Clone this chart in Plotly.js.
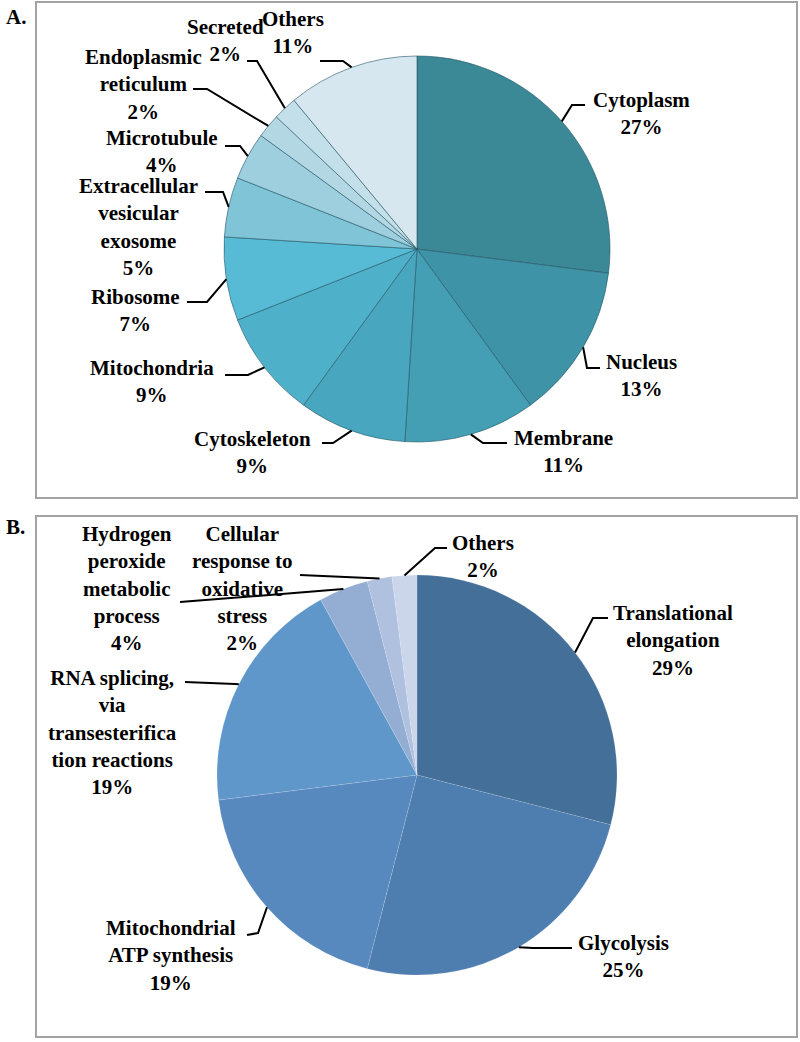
<!DOCTYPE html>
<html>
<head>
<meta charset="utf-8">
<script src="https://cdn.plot.ly/plotly-3.0.1.min.js"></script>
<style>
html,body{margin:0;padding:0;background:#fff;}
#chart{width:800px;height:1042px;}
#chart text{font-family:"Liberation Serif", "Times New Roman", serif !important;}
</style>
</head>
<body>
<div id="chart"></div>
<script>
// ---- Data ----
const locLabels = ["Cytoplasm", "Nucleus", "Membrane", "Cytoskeleton", "Mitochondria", "Ribosome",
  "Extracellular<br>vesicular<br>exosome", "Microtubule", "Endoplasmic<br>reticulum", "Secreted", "Others"];
const locValues = [27, 13, 11, 9, 9, 7, 5, 4, 2, 2, 11];
const locColors = ["#3b8896", "#3f93a6", "#449fb4", "#49a6bf", "#4fb0c9", "#57bbd5",
  "#80c4d7", "#9dcfde", "#b3d8e4", "#c3dfe9", "#d6e7ef"];

const procLabels = ["Translational<br>elongation", "Glycolysis", "Mitochondrial<br>ATP synthesis",
  "RNA splicing,<br>via<br>transesterifica<br>tion reactions",
  "Hydrogen<br>peroxide<br>metabolic<br>process", "Cellular<br>response to<br>oxidative<br>stress", "Others"];
const procValues = [29, 25, 19, 19, 4, 2, 2];
const procColors = ["#446f98", "#4e7daf", "#5789be", "#6097cb", "#94aed3", "#b0c1df", "#cbd6ea"];

// ---- Layout helpers (pixel -> paper) ----
const W = 800, H = 1042;
const px = x => x / W;
const py = y => 1 - y / H;

// pie geometry (layout)
const pieA = {cx: 417, cy: 249, r: 193};
const pieB = {cx: 417, cy: 775, r: 200};

// label placement (layout): text centre, elbow, end of leader
const placeA = [
  {t: [641, 113], e: [572, 105], n: [585, 105]},
  {t: [641, 375], e: [587, 368], n: [600, 368]},
  {t: [563, 451], e: [483, 443], n: [507, 443]},
  {t: [253, 452], e: [333, 443], n: [322, 443]},
  {t: [152, 381], e: [248, 375], n: [225, 375]},
  {t: [135, 310], e: [207, 302], n: [187, 302]},
  {t: [138, 227], e: [223, 192], n: [205, 192]},
  {t: [162, 151], e: [240, 146], n: [225, 146]},
  {t: [143, 84],  e: [207, 89],  n: [193, 89]},
  {t: [225, 41],  e: [257, 61],  n: [247, 61]},
  {t: [293, 33],  e: [343, 61],  n: [320, 61]}
];
const placeB = [
  {t: [673, 640], e: [593, 618], n: [608, 618]},
  {t: [623, 956], e: [533, 948], n: [572, 948]},
  {t: [171, 955], e: [258, 933], n: [247, 935]},
  {t: [112, 732], e: [235, 684], n: [185, 682]},
  {t: [127, 588], e: [180, 602], n: [180, 602]},
  {t: [242, 588], e: [300, 575], n: [300, 575]},
  {t: [483, 556], e: [435, 548], n: [447, 548]}
];

const mkFont = () => ({family: "Liberation Serif", size: 21, color: "#000", weight: 700});

function buildLabels(labels, values, pie, place, annotations, shapes) {
  const total = values.reduce((a, b) => a + b, 0);
  let cum = 0;
  labels.forEach((lab, i) => {
    const mid = (cum + values[i] / 2) / total;
    cum += values[i];
    const ang = mid * 2 * Math.PI;
    const sx = pie.cx + pie.r * Math.sin(ang);
    const sy = pie.cy - pie.r * Math.cos(ang);
    const p = place[i];
    const pct = Math.round(values[i] / total * 100) + "%";
    annotations.push({
      xref: "paper", yref: "paper", x: px(p.t[0]), y: py(p.t[1]),
      xanchor: "center", yanchor: "middle", showarrow: false, align: "center",
      text: lab + "<br>" + pct, font: mkFont()
    });
    shapes.push({
      type: "path", xref: "paper", yref: "paper",
      path: `M ${px(sx)} ${py(sy)} L ${px(p.e[0])} ${py(p.e[1])} L ${px(p.n[0])} ${py(p.n[1])}`,
      line: {color: "#000", width: 2}
    });
  });
}

const annotations = [
  {xref: "paper", yref: "paper", x: px(4), y: py(17), xanchor: "left", yanchor: "middle",
   showarrow: false, text: "A.", font: mkFont()},
  {xref: "paper", yref: "paper", x: px(4), y: py(527), xanchor: "left", yanchor: "middle",
   showarrow: false, text: "B.", font: mkFont()}
];
const shapes = [
  {type: "rect", xref: "paper", yref: "paper", x0: px(36), x1: px(797), y0: py(498), y1: py(2),
   line: {color: "#a3a3a3", width: 2}},
  {type: "rect", xref: "paper", yref: "paper", x0: px(36), x1: px(797), y0: py(1037), y1: py(516),
   line: {color: "#a3a3a3", width: 2}}
];
buildLabels(locLabels, locValues, pieA, placeA, annotations, shapes);
buildLabels(procLabels, procValues, pieB, placeB, annotations, shapes);

const traces = [
  {
    type: "pie", labels: locLabels, values: locValues, sort: false, direction: "clockwise", rotation: 0,
    marker: {colors: locColors, line: {color: "rgba(35,85,100,0.75)", width: 0.8}},
    textinfo: "none", hoverinfo: "label+percent",
    domain: {x: [px(pieA.cx - pieA.r), px(pieA.cx + pieA.r)], y: [py(pieA.cy + pieA.r), py(pieA.cy - pieA.r)]}
  },
  {
    type: "pie", labels: procLabels, values: procValues, sort: false, direction: "clockwise", rotation: 0,
    marker: {colors: procColors, line: {color: "rgba(255,255,255,0.25)", width: 0.5}},
    textinfo: "none", hoverinfo: "label+percent",
    domain: {x: [px(pieB.cx - pieB.r), px(pieB.cx + pieB.r)], y: [py(pieB.cy + pieB.r), py(pieB.cy - pieB.r)]}
  }
];

const layout = {
  width: W, height: H, margin: {l: 0, r: 0, t: 0, b: 0},
  paper_bgcolor: "#fff", plot_bgcolor: "#fff", showlegend: false,
  annotations: annotations, shapes: shapes
};

Plotly.newPlot("chart", traces, layout, {displayModeBar: false, staticPlot: true});
</script>
</body>
</html>
